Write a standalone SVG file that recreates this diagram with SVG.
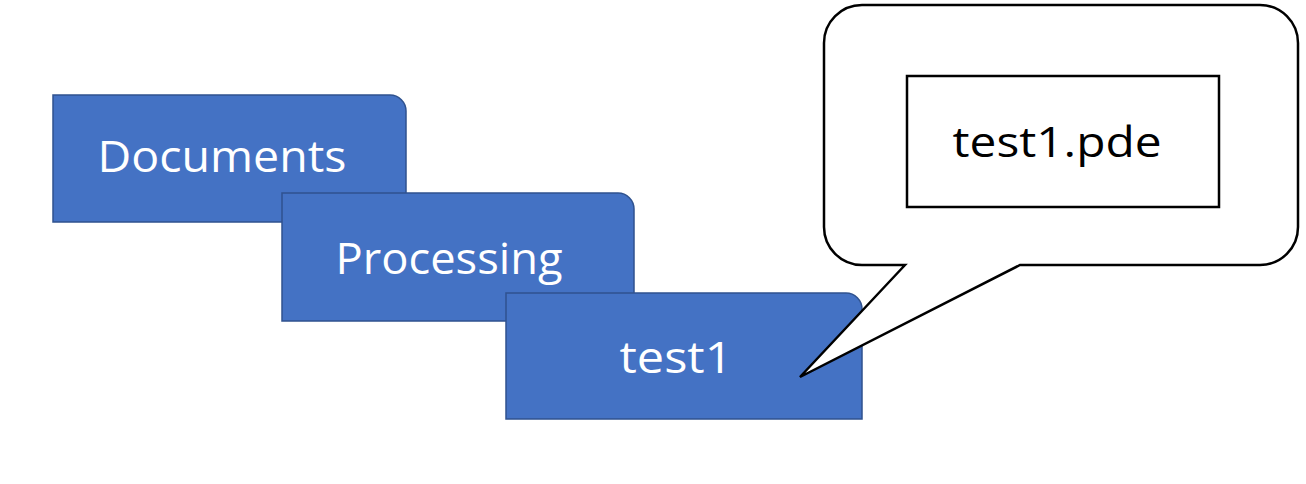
<svg xmlns="http://www.w3.org/2000/svg" width="1306" height="484" viewBox="0 0 1306 484">
<style>
.tab{fill:#4472C4;stroke:#2F528F;stroke-width:1.5}
.tl{font-family:"Open Sans","Liberation Sans",sans-serif;font-size:44px;fill:#fff;text-anchor:middle}
.bubble{fill:#fff;stroke:#000;stroke-width:2.5;stroke-linejoin:miter}
.box{fill:#fff;stroke:#000;stroke-width:2.5}
.bl{font-family:"Open Sans","Liberation Sans",sans-serif;font-size:42px;fill:#000;text-anchor:middle}
</style>
<rect width="1306" height="484" fill="#fff"/>
<g id="documents">
<path class="tab" d="M53 222 V95 H390 A16 16 0 0 1 406 111 V222 Z"/>
<text class="tl" x="222" y="172" textLength="249" lengthAdjust="spacingAndGlyphs">Documents</text>
</g>
<g id="processing">
<path class="tab" d="M282 321 V193 H618 A16 16 0 0 1 634 209 V321 Z"/>
<text class="tl" x="449" y="274" textLength="227" lengthAdjust="spacingAndGlyphs">Processing</text>
</g>
<g id="test1">
<path class="tab" d="M506 419 V293 H846 A16 16 0 0 1 862 309 V419 Z"/>
<text class="tl" x="676" y="373" textLength="113" lengthAdjust="spacingAndGlyphs">test1</text>
</g>
<g id="callout">
<path class="bubble" d="M905 265 L800 377 L1020 265 H1260 A38 38 0 0 0 1298 227 V43 A38 38 0 0 0 1260 5 H862 A38 38 0 0 0 824 43 V227 A38 38 0 0 0 862 265 Z"/>
</g>
<g id="test1pde">
<rect class="box" x="907" y="76" width="312" height="131"/>
<text class="bl" x="1057" y="157" textLength="209" lengthAdjust="spacingAndGlyphs">test1.pde</text>
</g>
<g id="connectors"></g>
</svg>
